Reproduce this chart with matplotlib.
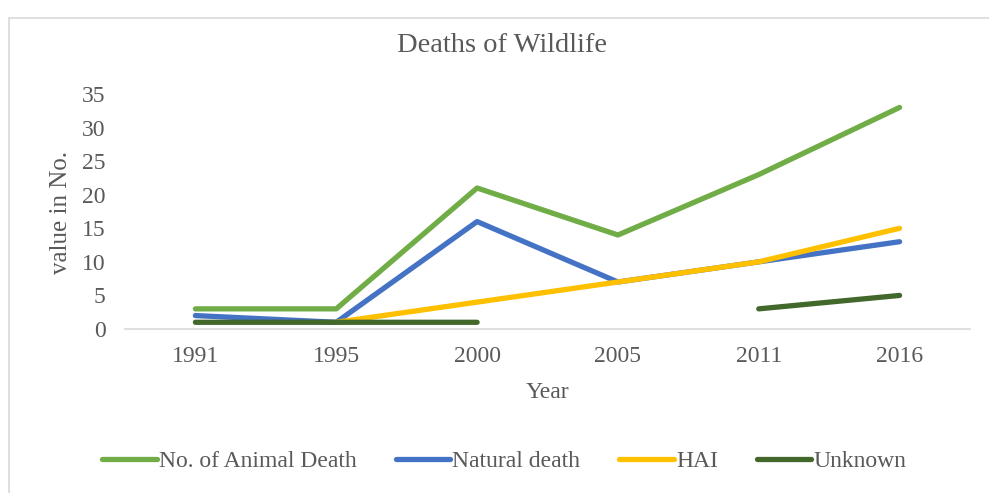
import numpy as np
import matplotlib
matplotlib.use("Agg")
import matplotlib.pyplot as plt
from matplotlib.patches import Rectangle

# dane
years = ["1991", "1995", "2000", "2005", "2011", "2016"]
animal_death = [3, 3, 21, 14, 23, 33]
natural_death = [2, 1, 16, 7, 10, 13]
hai = [np.nan, 1, 4, 7, 10, 15]
unknown = [1, 1, 1, np.nan, 3, 5]

plt.rcParams['font.family'] = ['Liberation Serif', 'DejaVu Serif']
szary = '#595959'

fig = plt.figure(figsize=(9.89, 4.93), dpi=100)
ax = fig.add_axes([125 / 989, 1 - 329 / 493, 845 / 989, 235 / 493])

# ramka wykresu (jak w Excelu)
fig.patches.append(Rectangle((9 / 989, -0.1), 1.2, 1 - 18 / 493 + 0.1,
                             transform=fig.transFigure, fill=False,
                             edgecolor='#D9D9D9', lw=1.2))

x = np.arange(len(years))
serie = [
    (animal_death, '#70AD47', 'No. of Animal Death'),
    (natural_death, '#4472C4', 'Natural death'),
    (hai, '#FFC000', 'HAI'),
    (unknown, '#43682B', 'Unknown'),
]
for dane, kolor, nazwa in serie:
    ax.plot(x, dane, color=kolor, lw=3.8, solid_capstyle='round',
            solid_joinstyle='round', label=nazwa)

ax.set_xlim(-0.5, 5.5)
ax.set_ylim(0, 35)
ax.set_xticks(x)
ax.set_xticklabels(years)
ax.set_yticks(range(0, 36, 5))
ax.tick_params(axis='both', length=0, labelsize=17, colors=szary)
ax.tick_params(axis='x', pad=12)
ax.tick_params(axis='y', pad=14)

for s in ['top', 'right', 'left']:
    ax.spines[s].set_visible(False)
ax.spines['bottom'].set_color('#D9D9D9')
ax.spines['bottom'].set_linewidth(1.2)

fig.text(0.508, 1 - 45 / 493, 'Deaths of Wildlife', ha='center', va='center',
         fontsize=20.5, color=szary)
fig.text(0.554, 1 - 392 / 493, 'Year', ha='center', va='center',
         fontsize=17, color=szary)
fig.text(61 / 989, 1 - 212 / 493, 'value in No.', ha='center', va='center',
         rotation=90, fontsize=18, color=szary)

fig.legend(loc='center', bbox_to_anchor=(0.51, 1 - 461 / 493), ncol=4,
           frameon=False, fontsize=17, handlelength=2.3, handletextpad=0.1,
           columnspacing=1.65, labelcolor=szary)

fig.savefig('out.png', dpi=100)
